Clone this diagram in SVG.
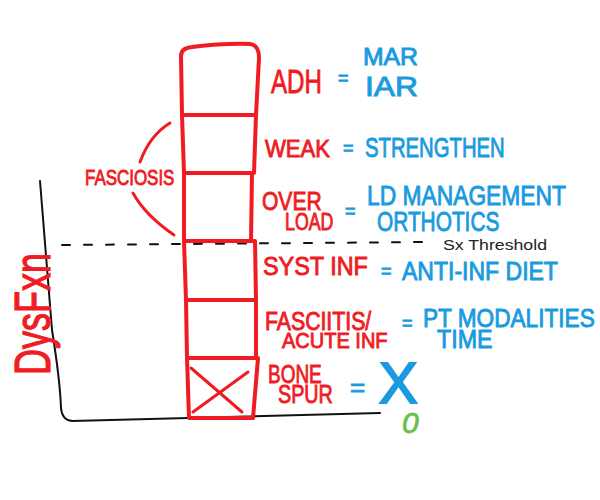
<svg xmlns="http://www.w3.org/2000/svg" width="600" height="500" viewBox="0 0 600 500">
<style>
.box{fill:none;stroke:#f01c24;stroke-width:4;stroke-linejoin:round;stroke-linecap:round}
.red{fill:#f01c24;stroke:#f01c24;stroke-width:0.9;font-family:"Liberation Sans",Arial,sans-serif}
.blue{fill:#1a9be0;stroke:#1a9be0;stroke-width:0.9;font-family:"Liberation Sans",Arial,sans-serif}
.ax{fill:none;stroke:#111;stroke-width:2;stroke-linecap:round}
.arc{fill:none;stroke:#f01c24;stroke-width:3;stroke-linecap:round}
</style>
<rect width="600" height="500" fill="#fff"/>
<g id="axes">
<path class="ax" d="M40,181 Q44,230 52,330 Q60,380 61,408 Q62,420 72,421 L380,413"/>
<path class="ax" d="M62,245 L427,242" stroke-dasharray="8,14" stroke-width="1.5"/>
<text x="443" y="250" font-family="Liberation Sans,Arial,sans-serif" font-size="14" fill="#222" textLength="104" lengthAdjust="spacingAndGlyphs">Sx Threshold</text>
<text transform="translate(50,375) rotate(-90) scale(0.72,1)" class="red" font-size="50" style="stroke-width:1.2">DysFxn</text>
</g>
<g id="box-adh">
<path class="box" d="M182,115 L181,56 Q181,48 192,47 Q225,43 250,44 Q259,45 259,58 L256,115 Z"/>
<text class="red" transform="translate(271,93) scale(0.71,1)" font-size="34">ADH</text>
<text class="blue" x="338" y="84" font-size="18">=</text>
<text class="blue" x="363" y="65" font-size="23" textLength="55" lengthAdjust="spacingAndGlyphs">MAR</text>
<text class="blue" x="365" y="96" font-size="27" textLength="53" lengthAdjust="spacingAndGlyphs">IAR</text>
</g>
<g id="box-weak">
<path class="box" d="M182,115 L256,115 L254,173 L184,173 Z"/>
<text class="red" transform="translate(265,157) scale(0.92,1)" font-size="24">WEAK</text>
<text class="blue" x="343" y="154" font-size="18">=</text>
<text class="blue" transform="translate(365,157) scale(0.725,1)" font-size="28">STRENGTHEN</text>
</g>
<g id="box-overload">
<path class="box" d="M184,173 L252,173 L251,241 L184,241 Z"/>
<text class="red" transform="translate(262,210) scale(0.81,1)" font-size="26">OVER</text>
<text class="red" transform="translate(285,230) scale(0.74,1)" font-size="24">LOAD</text>
<text class="blue" x="345" y="217" font-size="18">=</text>
<text class="blue" transform="translate(367,205) scale(0.845,1)" font-size="27">LD MANAGEMENT</text>
<text class="blue" transform="translate(377,231) scale(0.745,1)" font-size="28">ORTHOTICS</text>
</g>
<g id="box-syst">
<path class="box" d="M184,241 L255,241 L256,300 L186,300 Z"/>
<text class="red" transform="translate(263,275) scale(0.9,1)" font-size="26">SYST INF</text>
<text class="blue" x="381" y="277" font-size="18">=</text>
<text class="blue" transform="translate(402,280) scale(0.885,1)" font-size="26">ANTI-INF DIET</text>
</g>
<g id="box-fasciitis">
<path class="box" d="M186,300 L256,300 L256,358 L187,358 Z"/>
<text class="red" transform="translate(265,330) scale(0.85,1)" font-size="25">FASCIITIS/</text>
<text class="red" transform="translate(282,348) scale(0.91,1)" font-size="22">ACUTE INF</text>
<text class="blue" x="402" y="329" font-size="18">=</text>
<text class="blue" transform="translate(423,327) scale(0.87,1)" font-size="26">PT MODALITIES</text>
<text class="blue" transform="translate(437,348) scale(0.93,1)" font-size="25">TIME</text>
</g>
<g id="box-bone">
<path class="box" d="M187,358 L258,358 L253,418 L189,418 Z"/>
<path class="arc" d="M191,368 L242,412 M248,372 L193,412"/>
<text class="red" transform="translate(268,383) scale(0.73,1)" font-size="26">BONE</text>
<text class="red" transform="translate(278,403) scale(0.76,1)" font-size="26">SPUR</text>
<text class="blue" x="350" y="396" font-size="26">=</text>
<text class="blue" x="379" y="403" font-size="58" style="stroke-width:2">X</text>
<text x="402" y="433" font-family="Liberation Sans,Arial,sans-serif" font-size="30" fill="#6cbf4e" stroke="#6cbf4e" stroke-width="0.8" font-style="italic">0</text>
</g>
<g id="fasciosis">
<text class="red" transform="translate(85,185) scale(0.77,1)" font-size="22">FASCIOSIS</text>
</g>
<g id="connectors">
<path class="arc" d="M170,123 Q150,135 140,162"/>
<path class="arc" d="M133,193 Q145,215 174,235"/>
</g>
</svg>
